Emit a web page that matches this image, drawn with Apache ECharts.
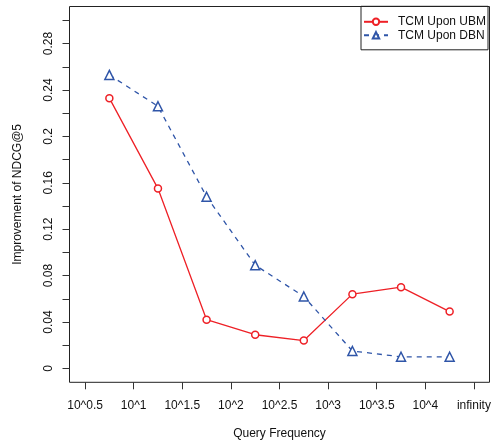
<!DOCTYPE html>
<html>
<head>
<meta charset="utf-8">
<script src="https://cdn.jsdelivr.net/npm/echarts@6/dist/echarts.min.js"></script>
<style>html,body{margin:0;padding:0;background:#fff}#c{width:494px;height:445px}</style>
</head>
<body>
<div id="c"></div>
<script>
// Tick labels on the x axis (bin boundaries); points sit in the middle of each bin
var tickLabels = ['10^0.5', '10^1', '10^1.5', '10^2', '10^2.5', '10^3', '10^3.5', '10^4', 'infinity'];
var seriesNames = ['TCM Upon UBM', 'TCM Upon DBN'];
var ubmValues = [0.233, 0.155, 0.042, 0.029, 0.024, 0.064, 0.070, 0.049];
var dbnValues = [0.253, 0.226, 0.148, 0.089, 0.062, 0.015, 0.010, 0.010];
var yTickValues = [0, 0.02, 0.04, 0.06, 0.08, 0.10, 0.12, 0.14, 0.16, 0.18, 0.20, 0.22, 0.24, 0.26, 0.28, 0.30];
var yLabelValues = [0, 0.04, 0.08, 0.12, 0.16, 0.20, 0.24, 0.28];

var tickIdx = tickLabels.map(function (_, i) { return i; });
function binData(vals) { return vals.map(function (v, i) { return [i + 0.5, v]; }); }
var nT = tickLabels.length - 1;
var xPad = nT * 0.04, yPad = 0.30 * 0.04;
var FONT = 'Liberation Sans';
var RED = '#ee2026', BLUE = '#2f55a8';

var chart = echarts.init(document.getElementById('c'), null, { renderer: 'canvas' });
chart.setOption({
  animation: false,
  backgroundColor: '#fff',
  textStyle: { fontFamily: FONT },
  grid: { left: 69.5, right: 4.5, top: 6.5, bottom: 62.7, show: true, borderColor: '#222', borderWidth: 1, containLabel: false },
  legend: {
    left: 361, top: 6.3, orient: 'vertical',
    borderColor: '#222', borderWidth: 1,
    padding: [9, 2, 8, 2],
    itemGap: 0.5, itemWidth: 24, itemHeight: 8,
    textStyle: { fontSize: 12, color: '#111', fontFamily: FONT, lineHeight: 13, padding: [0, 0, 0, 5] },
    data: seriesNames
  },
  xAxis: {
    type: 'value', min: -xPad, max: nT + xPad,
    axisLine: { show: false, onZero: false },
    splitLine: { show: false },
    axisTick: { show: true, inside: false, length: 7, customValues: tickIdx, lineStyle: { color: '#333' } },
    axisLabel: { customValues: tickIdx, margin: 17, fontSize: 12, color: '#111', fontFamily: FONT,
      formatter: function (v) { return tickLabels[Math.round(v)]; } },
    name: 'Query Frequency', nameLocation: 'middle', nameGap: 45,
    nameTextStyle: { fontSize: 12, color: '#111', fontFamily: FONT }
  },
  yAxis: {
    type: 'value', min: -yPad, max: 0.30 + yPad,
    axisLine: { show: false, onZero: false },
    splitLine: { show: false },
    axisTick: { show: true, inside: false, length: 7, customValues: yTickValues, lineStyle: { color: '#333' } },
    axisLabel: { customValues: yLabelValues, rotate: 90, margin: 15, fontSize: 12, color: '#111', fontFamily: FONT,
      formatter: function (v) { return String(Number(v.toFixed(2))); } },
    name: 'Improvement of NDCG@5', nameLocation: 'middle', nameGap: 46,
    nameTextStyle: { fontSize: 12, color: '#111', fontFamily: FONT }
  },
  series: [
    { name: seriesNames[0], type: 'line', data: binData(ubmValues),
      symbol: 'circle', symbolSize: 7, showAllSymbol: true,
      itemStyle: { color: '#fff', borderColor: RED, borderWidth: 1.5 },
      lineStyle: { color: RED, width: 1.3, type: 'solid' } },
    { name: seriesNames[1], type: 'line', data: binData(dbnValues),
      symbol: 'triangle', symbolSize: 9, showAllSymbol: true,
      itemStyle: { color: '#fff', borderColor: BLUE, borderWidth: 1.5 },
      lineStyle: { color: BLUE, width: 1.3, type: [5, 5] } }
  ]
});
</script>
</body>
</html>
